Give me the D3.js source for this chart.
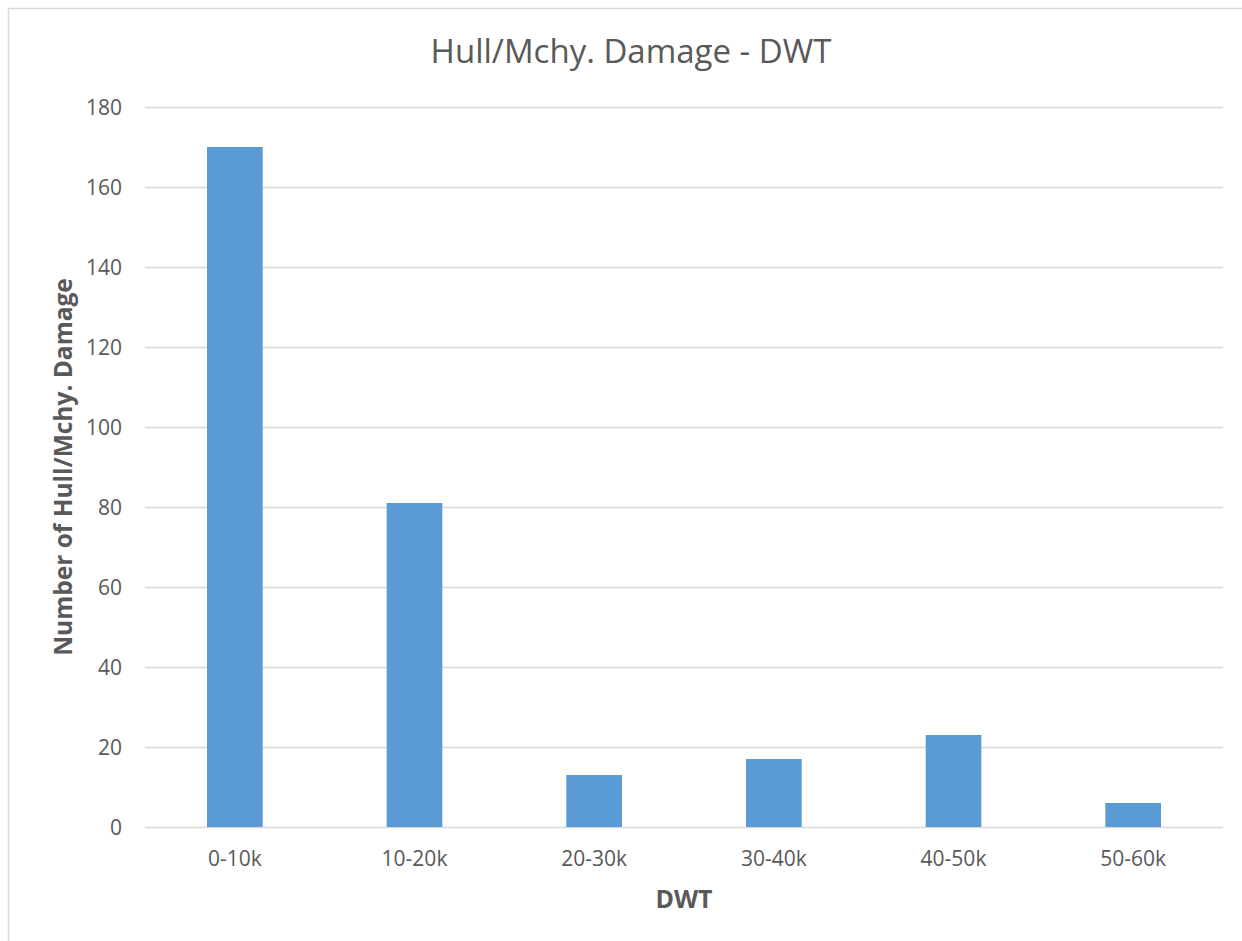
<!DOCTYPE html>
<html>
<head>
<meta charset="utf-8">
<script src="https://cdn.jsdelivr.net/npm/d3@7/dist/d3.min.js"></script>
<style>
  html, body { margin: 0; padding: 0; background: #fff; }
  svg { display: block; }
  text { font-family: "Open Sans", "Noto Sans", sans-serif; fill: #595959; }
</style>
</head>
<body>
<svg id="chart" width="1242" height="941"></svg>
<script>
// DWT size bands and number of hull/machinery damage cases
const categories = ["0-10k", "10-20k", "20-30k", "30-40k", "40-50k", "50-60k"];
const damageCounts = [170, 81, 13, 17, 23, 6];
const yTicks = [0, 20, 40, 60, 80, 100, 120, 140, 160, 180];

const svg = d3.select("#chart");
const plot = { left: 145, right: 1223, top: 107, bottom: 827 };

// chart area frame (runs past the right and bottom edges)
svg.append("rect")
  .attr("x", 8.5).attr("y", 8.5)
  .attr("width", 1260).attr("height", 960)
  .attr("fill", "#fff")
  .attr("stroke", "#D9D9D9").attr("stroke-width", 1.5);

const x = d3.scaleBand()
  .domain(categories)
  .range([plot.left, plot.right])
  .paddingInner(0.69)
  .paddingOuter(0.345);

const y = d3.scaleLinear()
  .domain([0, 180])
  .range([plot.bottom, plot.top]);

// horizontal gridlines
svg.append("g")
  .selectAll("line")
  .data(yTicks)
  .join("line")
  .attr("x1", plot.left).attr("x2", plot.right)
  .attr("y1", d => Math.round(y(d)) + 0.5)
  .attr("y2", d => Math.round(y(d)) + 0.5)
  .attr("stroke", "#D9D9D9").attr("stroke-width", 1.3);

// bars
svg.append("g")
  .selectAll("rect")
  .data(damageCounts)
  .join("rect")
  .attr("x", (d, i) => x(categories[i]))
  .attr("width", x.bandwidth())
  .attr("y", d => y(d))
  .attr("height", d => y(0) - y(d))
  .attr("fill", "#5B9BD5");

// y-axis labels
const yAxis = d3.axisLeft(y).tickValues(yTicks).tickSize(0).tickPadding(0);
const gy = svg.append("g")
  .attr("transform", `translate(${plot.left - 23},0)`)
  .call(yAxis);
gy.select(".domain").remove();
gy.selectAll("text")
  .attr("font-size", 21)
  .attr("font-family", "'Open Sans', sans-serif")
  .attr("fill", "#595959")
  .attr("dy", "0.35em");

// x-axis labels
const xAxis = d3.axisBottom(x).tickSize(0).tickPadding(0);
const gx = svg.append("g")
  .attr("transform", `translate(0,${plot.bottom})`)
  .call(xAxis);
gx.select(".domain").remove();
gx.selectAll("text")
  .attr("font-size", 21)
  .attr("font-family", "'Open Sans', sans-serif")
  .attr("fill", "#595959")
  .attr("y", 39)
  .attr("dy", 0);

// chart title
svg.append("text")
  .attr("x", 631).attr("y", 63)
  .attr("text-anchor", "middle")
  .attr("font-size", 33)
  .text("Hull/Mchy. Damage - DWT");

// axis titles
svg.append("text")
  .attr("x", (plot.left + plot.right) / 2).attr("y", 908)
  .attr("text-anchor", "middle")
  .attr("font-size", 25)
  .attr("font-weight", "bold")
  .text("DWT");

svg.append("text")
  .attr("transform", `translate(72,${(plot.top + plot.bottom) / 2}) rotate(-90)`)
  .attr("text-anchor", "middle")
  .attr("font-size", 24.5)
  .attr("font-weight", "bold")
  .text("Number of Hull/Mchy. Damage");
</script>
</body>
</html>
